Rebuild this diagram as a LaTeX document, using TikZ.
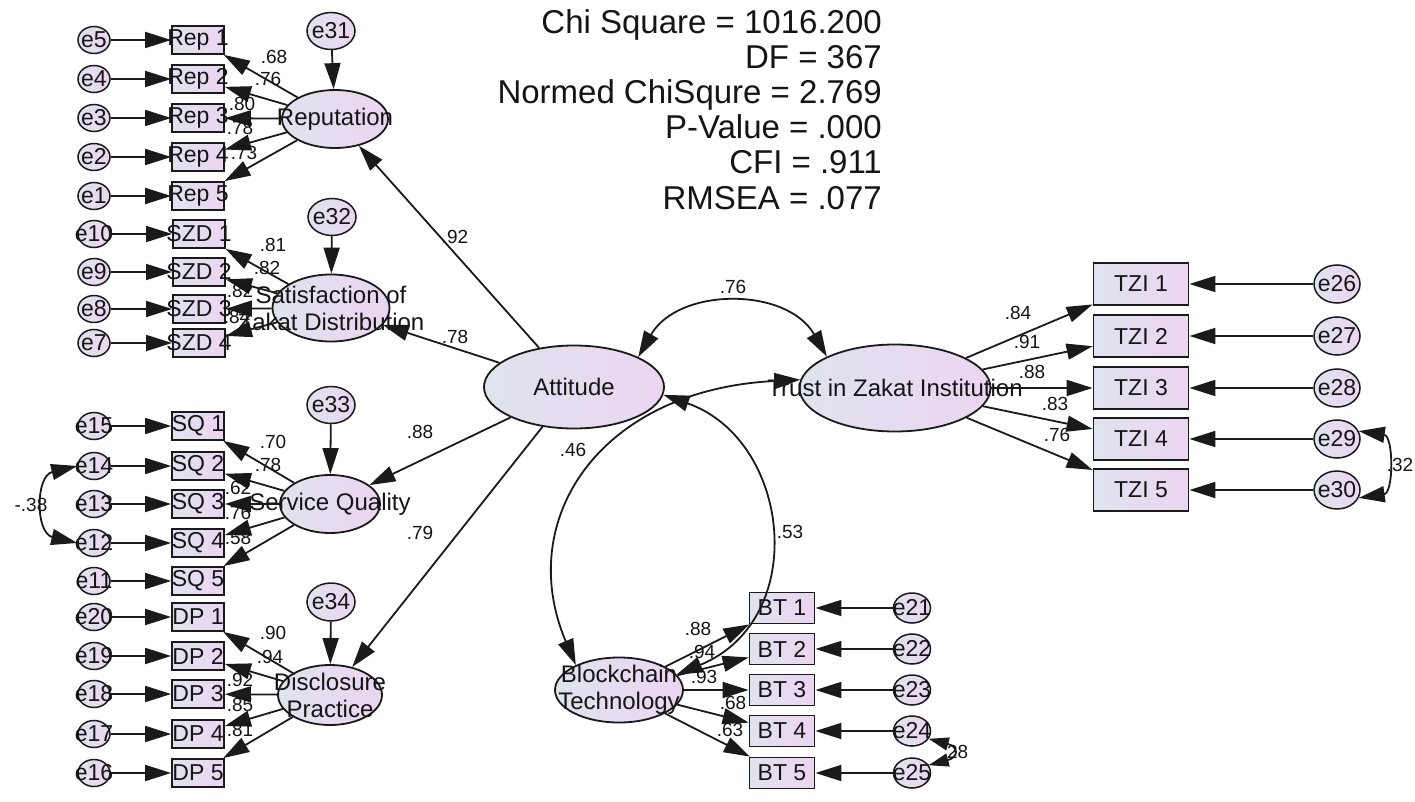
\documentclass[tikz,border=0pt]{standalone}
\usepackage{fontspec}
\setmainfont{Liberation Sans}
\usetikzlibrary{positioning,shapes.geometric,arrows.meta}
\definecolor{ink}{HTML}{151515}
\definecolor{linec}{HTML}{1A1A1A}
\definecolor{fillL}{HTML}{DFE3EE}
\definecolor{fillR}{HTML}{ECD5F2}

\begin{document}
\begin{tikzpicture}[
    x=1pt, y=-1pt,
    latent/.style={ellipse, draw=linec, line width=1.8pt, left color=fillL, right color=fillR, inner sep=0pt},
    item/.style={rectangle, draw=linec, line width=1.8pt, left color=fillL, right color=fillR, inner sep=0pt},
    err/.style={ellipse, draw=linec, line width=1.5pt, left color=fillL, right color=fillR, inner sep=0pt},
    txt/.style={font=\fontsize{23}{26}\selectfont, text=ink, inner sep=0pt},
    lattxt/.style={font=\fontsize{24}{27}\selectfont, text=ink, inner sep=0pt, align=center},
    coef/.style={font=\fontsize{19}{21}\selectfont, text=ink, inner sep=0pt},
    load/.style={draw=linec, line width=1.8pt, -{Triangle[length=26pt,width=16pt]}},
    cov/.style={draw=linec, line width=1.8pt, {Triangle[length=26pt,width=16pt]}-{Triangle[length=26pt,width=16pt]}}
]
    \fill [white] (0,0) rectangle (1415,802);
    \useasboundingbox (0,0) rectangle (1415,802);

    % fit indices
    \node (fit) [anchor=north east, align=right, font=\fontsize{33}{35.2}\selectfont, text=ink, inner sep=0pt] at (882,9)
        {Chi Square = 1016.200\\DF = 367\\Normed ChiSqure = 2.769\\P-Value = .000\\CFI = .911\\RMSEA = .077};

    % latent variables
    \node (rep) [latent, minimum width=106pt, minimum height=58pt, label={[lattxt]center:Reputation}] at (335,119) {};
    \node (szd) [latent, minimum width=117pt, minimum height=67pt, label={[lattxt]center:{Satisfaction of\\Zakat Distribution}}] at (331,308) {};
    \node (sq) [latent, minimum width=100pt, minimum height=58pt, label={[lattxt]center:Service Quality}] at (330,504) {};
    \node (dp) [latent, minimum width=104pt, minimum height=60pt, label={[lattxt]center:{Disclosure\\Practice}}] at (330,695) {};
    \node (att) [latent, minimum width=180pt, minimum height=83pt, label={[lattxt]center:Attitude}] at (574,387) {};
    \node (trust) [latent, minimum width=191pt, minimum height=87pt, label={[lattxt]center:Trust in Zakat Institution}] at (895,388) {};
    \node (bc) [latent, minimum width=128pt, minimum height=65pt, label={[lattxt]center:{Blockchain\\Technology}}] at (619,690) {};

    % disturbances
    \node (e31) [err, minimum width=48pt, minimum height=37pt, label={[txt]center:e31}] at (331,31) {};
    \node (e32) [err, minimum width=48pt, minimum height=37pt, label={[txt]center:e32}] at (332,217) {};
    \node (e33) [err, minimum width=48pt, minimum height=37pt, label={[txt]center:e33}] at (331,405) {};
    \node (e34) [err, minimum width=48pt, minimum height=38pt, label={[txt]center:e34}] at (331,602) {};
    \draw [load] (e31) -- (rep);
    \draw [load] (e32) -- (szd);
    \draw [load] (e33) -- (sq);
    \draw [load] (e34) -- (dp);

    % indicators
    \foreach \i/\y/\n in {1/40/5, 2/79/4, 3/118/3, 4/157/2, 5/196/1} {
        \node (rep\i) [item, minimum width=52pt, minimum height=28pt, label={[txt]center:Rep \i}] at (198,\y) {};
        \node (e\n) [err, minimum width=32pt, minimum height=27pt, label={[txt]center:e\n}] at (94,\y) {};
        \draw [load] (e\n) -- (rep\i);
        \draw [load] (rep) -- (rep\i);
    }
    \foreach \i/\y/\n in {1/234/10, 2/272/9, 3/309/8, 4/343/7} {
        \node (szd\i) [item, minimum width=52pt, minimum height=28pt, label={[txt]center:SZD \i}] at (199,\y) {};
        \node (e\n) [err, minimum width=32pt, minimum height=27pt, label={[txt]center:e\n}] at (94,\y) {};
        \draw [load] (e\n) -- (szd\i);
        \draw [load] (szd) -- (szd\i);
    }
    \foreach \i/\y/\n in {1/426/15, 2/466/14, 3/504/13, 4/543/12, 5/581/11} {
        \node (sq\i) [item, minimum width=52pt, minimum height=28pt, label={[txt]center:SQ \i}] at (198,\y) {};
        \node (e\n) [err, minimum width=32pt, minimum height=27pt, label={[txt]center:e\n}] at (94,\y) {};
        \draw [load] (e\n) -- (sq\i);
        \draw [load] (sq) -- (sq\i);
    }
    \foreach \i/\y/\n in {1/617/20, 2/656/19, 3/694/18, 4/734/17, 5/773/16} {
        \node (dp\i) [item, minimum width=52pt, minimum height=28pt, label={[txt]center:DP \i}] at (198,\y) {};
        \node (e\n) [err, minimum width=32pt, minimum height=27pt, label={[txt]center:e\n}] at (94,\y) {};
        \draw [load] (e\n) -- (dp\i);
        \draw [load] (dp) -- (dp\i);
    }
    \foreach \i/\y/\n in {1/608/21, 2/649/22, 3/690/23, 4/731/24, 5/773/25} {
        \node (bt\i) [item, minimum width=65pt, minimum height=31pt, label={[txt]center:BT \i}] at (782,\y) {};
        \node (e\n) [err, minimum width=37pt, minimum height=30pt, label={[txt]center:e\n}] at (912,\y) {};
        \draw [load] (e\n) -- (bt\i);
        \draw [load] (bc) -- (bt\i);
    }
    \foreach \i/\y/\n in {1/284/26, 2/336/27, 3/388/28, 4/439/29, 5/490/30} {
        \node (tzi\i) [item, minimum width=95pt, minimum height=42pt, label={[txt]center:TZI \i}] at (1141,\y) {};
        \node (e\n) [err, minimum width=46pt, minimum height=38pt, label={[txt]center:e\n}] at (1337,\y) {};
        \draw [load] (e\n) -- (tzi\i);
        \draw [load] (trust) -- (tzi\i);
    }

    % second order paths
    \draw [load] (att) -- (rep);
    \draw [load] (att) -- (szd);
    \draw [load] (att) -- (sq);
    \draw [load] (att) -- (dp);

    % estimates
    \foreach \x/\y/\v [count=\k] in {274/57/.68, 268/79/.76, 242/104/.80, 240/128/.78, 244/153/.73,
        273/245/.81, 267/268/.82, 240/291/.82, 237/317/.84,
        273/442/.70, 268/465/.78, 238/488/.62, 238/513/.76, 238/538/.58,
        273/633/.90, 270/657/.94, 240/680/.92, 240/705/.85, 240/730/.81,
        698/629/.88, 702/652/.94, 704/677/.93, 733/703/.68, 730/730/.63,
        1018/313/.84, 1027/342/.91, 1032/372/.88, 1055/404/.83, 1057/435/.76,
        455/237/.92, 455/337/.78, 420/432/.88, 420/533/.79,
        733/287/.76, 573/450/.46, 790/532/.53,
        31/505/-.38, 1400/465/.32, 955/752/.28}
        \node (est\k) [coef] at (\x,\y) {\v};

    % covariances
    \draw [cov] (att.north east) .. controls +(40,-70) and +(-40,-70) .. (trust.north west);
    \draw [cov] (bc.150) .. controls +(-62,-146) and +(-200,10) .. (trust.175);
    \draw [cov] (att.-5) .. controls +(128,45) and +(134,-55) .. (bc.15);
    \draw [cov] (e14.west) .. controls +(-42,10) and +(-42,-10) .. (e12.west);
    \draw [cov, {Triangle[length=20pt,width=13pt]}-{Triangle[length=20pt,width=13pt]}] (e24.-25) .. controls +(30,8) and +(30,-8) .. (e25.25);
    \draw [cov] (e29.20) .. controls +(35,5) and +(35,-5) .. (e30.-20);
\end{tikzpicture}
\end{document}
